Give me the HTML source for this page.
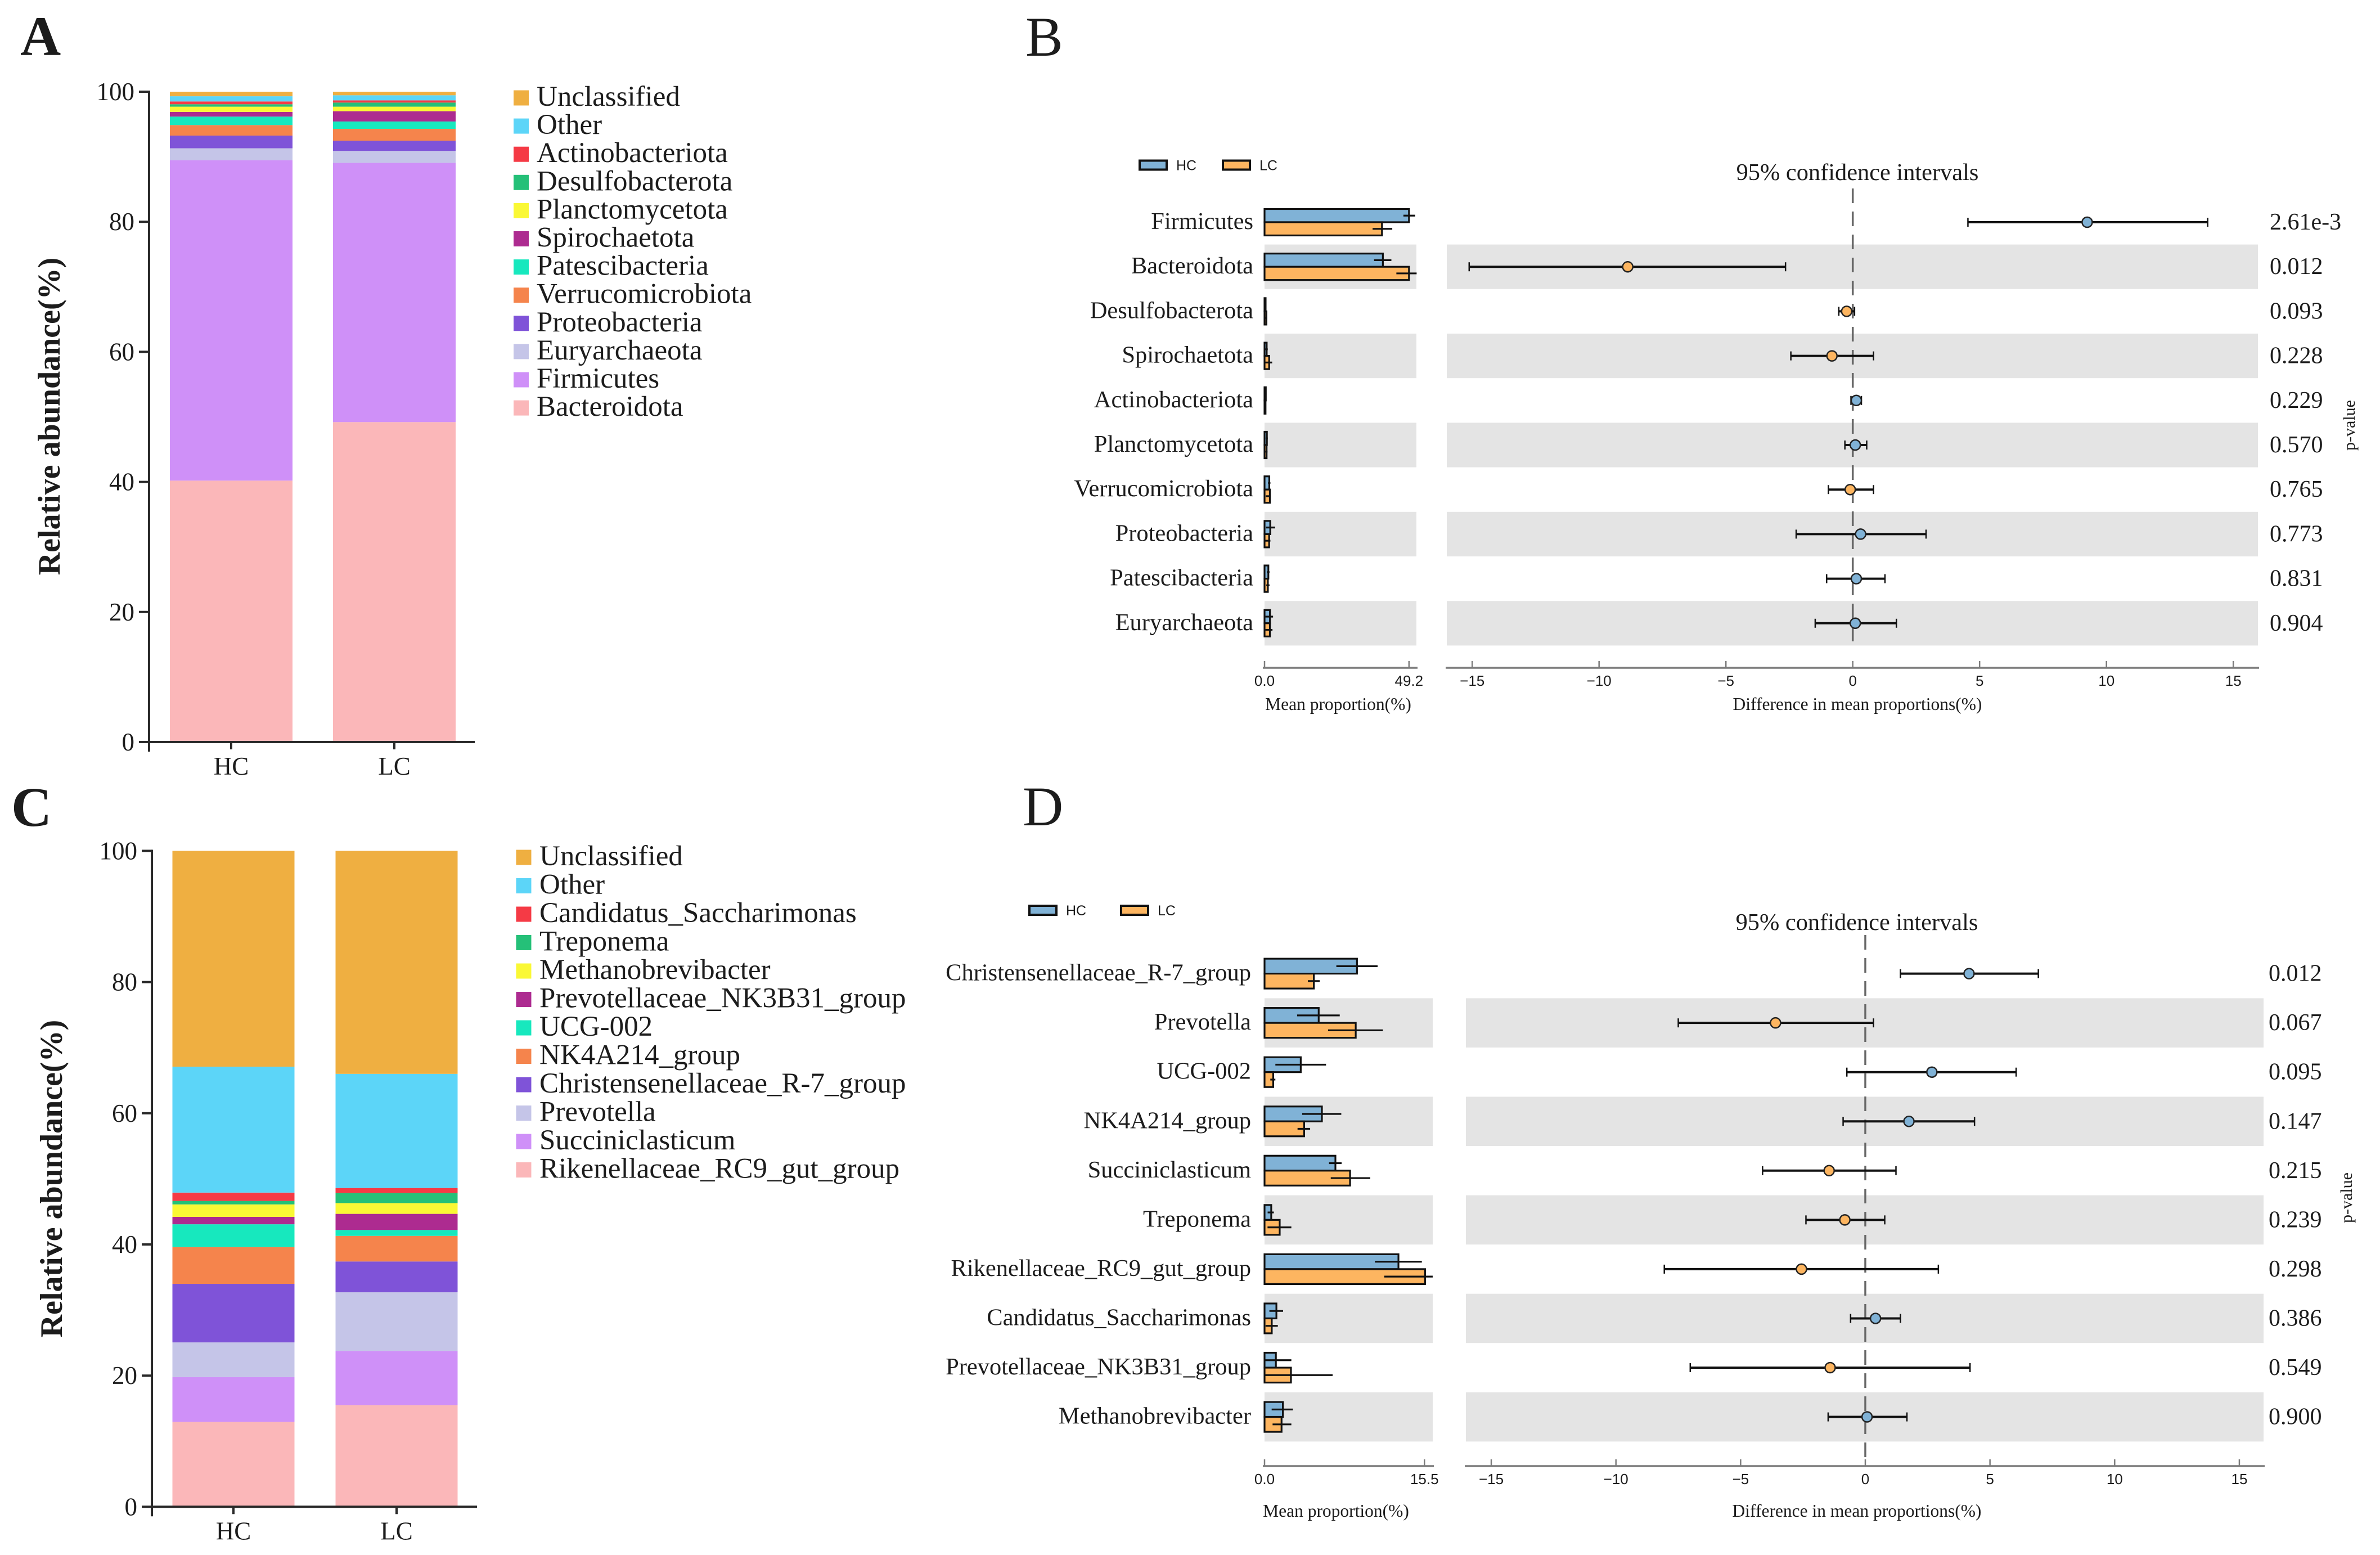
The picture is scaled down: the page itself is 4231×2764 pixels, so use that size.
<!DOCTYPE html>
<html lang="en">
<head>
<meta charset="utf-8">
<title>Microbiome composition and differential abundance</title>
<style>
html,body{margin:0;padding:0;background:#fff;}
svg{display:block;position:absolute;left:0;top:0;}
text{font-family:"Liberation Serif","DejaVu Serif",serif;fill:#1c1c1c;}
text.sans{font-family:"Liberation Sans","DejaVu Sans",sans-serif;}
</style>
</head>
<body>
<svg id="fig" xmlns="http://www.w3.org/2000/svg" width="4231" height="2764" viewBox="0 0 4231 2764">
  <rect x="0" y="0" width="4231" height="2764" fill="#ffffff"/>
  <text x="36" y="98" font-size="100" font-weight="bold">A</text>
  <text x="1823" y="99" font-size="100">B</text>
  <text x="20" y="1468" font-size="100" font-weight="bold">C</text>
  <text x="1818" y="1467" font-size="100">D</text>
  <g id="panelA"></g>
  <g id="panelB"></g>
  <g id="panelC"></g>
  <g id="panelD"></g>
</svg>
<script>
/* ---------- shared categories and ticks ---------- */
const groupNames = ['HC', 'LC'];
const stackTicks = [0, 20, 40, 60, 80, 100];
const diffTicks = [-15, -10, -5, 0, 5, 10, 15];

/* ---------- panel A: phylum composition (bottom to top) ---------- */
const phylumSeries = ['Bacteroidota', 'Firmicutes', 'Euryarchaeota', 'Proteobacteria', 'Verrucomicrobiota', 'Patescibacteria', 'Spirochaetota', 'Planctomycetota', 'Desulfobacterota', 'Actinobacteriota', 'Other', 'Unclassified'];
const phylumHC = [40.2, 49.25, 1.85, 1.95, 1.62, 1.3, 0.73, 0.8, 0.37, 0.43, 0.8, 0.7];
const phylumLC = [49.2, 39.87, 1.83, 1.57, 1.82, 1.13, 1.58, 0.7, 0.63, 0.34, 0.78, 0.55];

/* ---------- panel C: genus composition (bottom to top) ---------- */
const genusSeries = ['Rikenellaceae_RC9_gut_group', 'Succiniclasticum', 'Prevotella', 'Christensenellaceae_R-7_group', 'NK4A214_group', 'UCG-002', 'Prevotellaceae_NK3B31_group', 'Methanobrevibacter', 'Treponema', 'Candidatus_Saccharimonas', 'Other', 'Unclassified'];
const genusHC = [12.94, 6.82, 5.3, 8.93, 5.6, 3.48, 1.13, 1.9, 0.53, 1.27, 19.2, 32.9];
const genusLC = [15.5, 8.27, 8.93, 4.7, 3.9, 0.9, 2.46, 1.64, 1.54, 0.76, 17.4, 34.0];

/* ---------- panel B: phylum differences ---------- */
const phylaRows = ['Firmicutes', 'Bacteroidota', 'Desulfobacterota', 'Spirochaetota', 'Actinobacteriota', 'Planctomycetota', 'Verrucomicrobiota', 'Proteobacteria', 'Patescibacteria', 'Euryarchaeota'];
const phylaMeanHC = [49.2, 40.3, 0.37, 0.73, 0.43, 0.8, 1.62, 1.95, 1.3, 1.85];
const phylaErrLowHC = [47.3, 37.3, 0.2, 0.3, 0.2, 0.4, 1.2, 0.5, 0.8, 0.3];
const phylaErrHighHC = [51.3, 43.2, 0.5, 1.1, 0.6, 1.1, 2.0, 3.6, 1.7, 2.9];
const phylaMeanLC = [40.0, 49.2, 0.63, 1.58, 0.34, 0.7, 1.82, 1.57, 1.13, 1.83];
const phylaErrLowLC = [36.8, 44.9, 0.3, 0.1, 0.2, 0.3, 0.4, 0.2, 0.6, 0.3];
const phylaErrHighLC = [43.5, 51.8, 0.9, 2.6, 0.5, 1.0, 2.1, 2.0, 1.7, 2.7];
const phylaDiff = [9.24, -8.87, -0.24, -0.82, 0.14, 0.1, -0.1, 0.31, 0.14, 0.1];
const phylaDiffLow = [4.54, -15.12, -0.55, -2.44, -0.07, -0.31, -0.96, -2.23, -1.03, -1.48];
const phylaDiffHigh = [13.99, -2.65, 0.07, 0.82, 0.34, 0.55, 0.82, 2.89, 1.27, 1.72];
const phylaPValues = ['2.61e-3', '0.012', '0.093', '0.228', '0.229', '0.570', '0.765', '0.773', '0.831', '0.904'];
const phylaMeanTicks = [0, 49.2];
const phylaMeanTickLabels = ['0.0', '49.2'];

/* ---------- panel D: genus differences ---------- */
const genusRows = ['Christensenellaceae_R-7_group', 'Prevotella', 'UCG-002', 'NK4A214_group', 'Succiniclasticum', 'Treponema', 'Rikenellaceae_RC9_gut_group', 'Candidatus_Saccharimonas', 'Prevotellaceae_NK3B31_group', 'Methanobrevibacter'];
const genusMeanHC = [8.96, 5.25, 3.51, 5.56, 6.87, 0.65, 12.98, 1.15, 1.1, 1.78];
const genusErrLowHC = [6.96, 3.16, 1.05, 3.65, 6.25, 0.3, 10.7, 0.47, 0.0, 0.69];
const genusErrHighHC = [10.96, 7.29, 5.96, 7.44, 7.47, 0.9, 15.25, 1.8, 2.6, 2.75];
const genusMeanLC = [4.78, 8.84, 0.84, 3.84, 8.29, 1.47, 15.56, 0.7, 2.56, 1.65];
const genusErrLowLC = [4.2, 6.16, 0.56, 3.2, 6.42, 0.29, 11.6, 0.1, 0.0, 0.78];
const genusErrHighLC = [5.35, 11.47, 1.05, 4.42, 10.25, 2.6, 16.3, 1.29, 6.6, 2.6];
const genusDiff = [4.16, -3.6, 2.67, 1.75, -1.45, -0.82, -2.56, 0.41, -1.41, 0.07];
const genusDiffLow = [1.41, -7.5, -0.74, -0.89, -4.12, -2.38, -8.06, -0.59, -7.02, -1.49];
const genusDiffHigh = [6.94, 0.33, 6.05, 4.38, 1.23, 0.78, 2.93, 1.41, 4.2, 1.67];
const genusPValues = ['0.012', '0.067', '0.095', '0.147', '0.215', '0.239', '0.298', '0.386', '0.549', '0.900'];
const genusMeanTicks = [0, 15.5];
const genusMeanTickLabels = ['0.0', '15.5'];

/* ---------- palette ---------- */
const stackColors = ['#FBB7B9', '#CF90F8', '#C5C5E8', '#7F53D8', '#F5844C', '#17E8BE', '#AD2B90', '#FAF835', '#25C078', '#F53A45', '#5CD5F8', '#EFAF41'];
const hcColor = '#80B2D6';
const lcColor = '#FDB560';
const inkColor = '#111111';
const axisGray = '#7c7c7c';
const bandGray = '#E4E4E4';

const SVGNS = 'http://www.w3.org/2000/svg';

function mk(tag, attrs, parent, text) {
  const el = document.createElementNS(SVGNS, tag);
  Object.keys(attrs).forEach(function (k) { el.setAttribute(k, attrs[k]); });
  if (text !== undefined) el.textContent = text;
  parent.appendChild(el);
  return el;
}
function slug(s) {
  return String(s).toLowerCase().replace(/[^a-z0-9]+/g, '-').replace(/^-|-$/g, '');
}

function drawStackPanel(root, names, hc, lc, L) {
  const yAt = function (v) { return L.y0 - v * (L.y0 - L.y100) / 100; };
  const barCenters = [L.hcCenter, L.lcCenter];
  [hc, lc].forEach(function (vals, gi) {
    let cum = 0;
    const cx = barCenters[gi];
    vals.forEach(function (v, si) {
      const top = yAt(cum + v);
      const bottom = yAt(cum);
      const seg = mk('rect', { x: cx - L.barW / 2, y: top, width: L.barW, height: bottom - top, fill: stackColors[si] }, root);
      
      
      cum += v;
    });
  });
  const yLine = mk('line', { x1: L.axisX, x2: L.axisX, y1: L.y100 - 2, y2: L.y0 + 17, stroke: '#2a2a2a', 'stroke-width': 4 }, root);
  
  
  const xLine = mk('line', { x1: L.axisX, x2: L.axisEnd, y1: L.y0, y2: L.y0, stroke: '#2a2a2a', 'stroke-width': 4 }, root);
  
  
  stackTicks.forEach(function (t) {
    const tick = mk('line', { x1: L.axisX - 18, x2: L.axisX, y1: yAt(t), y2: yAt(t), stroke: '#2a2a2a', 'stroke-width': 4 }, root);
    
    
    const lab = mk('text', { x: L.axisX - 26, y: yAt(t) + 15, 'font-size': 45, 'text-anchor': 'end' }, root, String(t));
    
    
  });
  groupNames.forEach(function (g, gi) {
    const tick = mk('line', { x1: barCenters[gi], x2: barCenters[gi], y1: L.y0, y2: L.y0 + 13, stroke: '#2a2a2a', 'stroke-width': 4 }, root);
    
    
    const lab = mk('text', { x: barCenters[gi], y: L.y0 + 58, 'font-size': 45, 'text-anchor': 'middle' }, root, g);
    
    
  });
  const title = mk('text', { transform: 'translate(' + L.titleX + ',' + L.titleY + ') rotate(-90)', 'font-size': 56, 'font-weight': 'bold', 'text-anchor': 'middle' }, root, 'Relative abundance(%)');
  
  
  const n = names.length;
  for (let i = 0; i < n; i++) {
    const si = n - 1 - i;
    const cy = L.legendY + i * L.legendStep;
    const sw = mk('rect', { x: L.legendX, y: cy - 13.5, width: 27, height: 27, fill: stackColors[si] }, root);
    
    
    const tx = mk('text', { x: L.legendTextX, y: cy + 14, 'font-size': L.legendFont }, root, names[si]);
    
    
  }
}

function drawDiffPanel(root, D, L) {
  const meanX = function (v) { return L.meanX0 + v * L.meanScale; };
  const diffX = function (v) { return L.zeroX + v * L.diffScale; };
  const rowY = function (i) { return L.rowY0 + i * L.rowStep; };

  D.rows.forEach(function (name, i) {
    if (i % 2 === 1) {
      const b1 = mk('rect', { x: L.bandMeanX1, y: rowY(i) - L.rowStep / 2, width: L.bandMeanX2 - L.bandMeanX1, height: L.rowStep, fill: bandGray }, root);
      
      
      const b2 = mk('rect', { x: L.bandDiffX1, y: rowY(i) - L.rowStep / 2, width: L.bandDiffX2 - L.bandDiffX1, height: L.rowStep, fill: bandGray }, root);
      
      
    }
  });

  const zero = mk('line', { x1: diffX(0), x2: diffX(0), y1: L.zeroTop, y2: L.zeroBottom, stroke: '#666666', 'stroke-width': 3.5, 'stroke-dasharray': '26 15' }, root);
  
  

  D.rows.forEach(function (name, i) {
    const cy = rowY(i);
    const lab = mk('text', { x: L.labelX, y: cy + 12, 'font-size': 42.5, 'text-anchor': 'end' }, root, name);
    
    

    const hcBar = mk('rect', { x: meanX(0), y: cy - L.barH, width: meanX(D.meanHC[i]) - meanX(0), height: L.barH, fill: hcColor, stroke: inkColor, 'stroke-width': 3.2 }, root);
    
    
    const lcBar = mk('rect', { x: meanX(0), y: cy, width: meanX(D.meanLC[i]) - meanX(0), height: L.barH, fill: lcColor, stroke: inkColor, 'stroke-width': 3.2 }, root);
    
    
    const hcErr = mk('line', { x1: meanX(D.lowHC[i]), x2: meanX(D.highHC[i]), y1: cy - L.barH / 2, y2: cy - L.barH / 2, stroke: inkColor, 'stroke-width': 3.2 }, root);
    
    
    const lcErr = mk('line', { x1: meanX(D.lowLC[i]), x2: meanX(D.highLC[i]), y1: cy + L.barH / 2, y2: cy + L.barH / 2, stroke: inkColor, 'stroke-width': 3.2 }, root);
    
    

    const ci = mk('line', { x1: diffX(D.low[i]), x2: diffX(D.high[i]), y1: cy, y2: cy, stroke: inkColor, 'stroke-width': 4 }, root);
    
    
    const capL = mk('line', { x1: diffX(D.low[i]), x2: diffX(D.low[i]), y1: cy - 8, y2: cy + 8, stroke: inkColor, 'stroke-width': 2.5 }, root);
    
    
    const capH = mk('line', { x1: diffX(D.high[i]), x2: diffX(D.high[i]), y1: cy - 8, y2: cy + 8, stroke: inkColor, 'stroke-width': 2.5 }, root);
    
    
    const dot = mk('circle', { cx: diffX(D.diff[i]), cy: cy, r: 9, fill: D.diff[i] >= 0 ? hcColor : lcColor, stroke: '#222222', 'stroke-width': 2.5 }, root);
    
    

    const pv = mk('text', { x: L.pX, y: cy + 13, 'font-size': 42 }, root, D.p[i]);
    
    
  });

  const mAxis = mk('line', { x1: L.meanX0 - 3, x2: L.meanAxisEnd, y1: L.axisY, y2: L.axisY, stroke: axisGray, 'stroke-width': 3.5 }, root);
  
  
  D.meanTicks.forEach(function (t, k) {
    const tick = mk('line', { x1: meanX(t), x2: meanX(t), y1: L.axisY - 12, y2: L.axisY, stroke: axisGray, 'stroke-width': 2.5 }, root);
    
    
    const lab = mk('text', { class: 'sans', x: meanX(t), y: L.axisY + 32, 'font-size': 26, 'text-anchor': 'middle' }, root, D.meanTickLabels[k]);
    
    
  });
  const dAxis = mk('line', { x1: L.bandDiffX1 - 2, x2: L.bandDiffX2 + 2, y1: L.axisY, y2: L.axisY, stroke: axisGray, 'stroke-width': 3.5 }, root);
  
  
  diffTicks.forEach(function (t) {
    const tick = mk('line', { x1: diffX(t), x2: diffX(t), y1: L.axisY - 12, y2: L.axisY, stroke: axisGray, 'stroke-width': 2.5 }, root);
    
    
    const lab = mk('text', { class: 'sans', x: diffX(t), y: L.axisY + 32, 'font-size': 26, 'text-anchor': 'middle' }, root, String(t).replace('-', '\u2212'));
    
    
  });

  const meanTitle = mk('text', { x: L.meanTitleX, y: L.axisY + L.titleOffset, 'font-size': 31.5, 'text-anchor': 'middle' }, root, 'Mean proportion(%)');
  
  
  const diffTitle = mk('text', { x: L.diffTitleX, y: L.axisY + L.titleOffset, 'font-size': 31.5, 'text-anchor': 'middle' }, root, 'Difference in mean proportions(%)');
  
  
  const ciTitle = mk('text', { x: L.diffTitleX, y: L.ciTitleY, 'font-size': 42.4, 'text-anchor': 'middle' }, root, '95% confidence intervals');
  
  
  const pTitle = mk('text', { transform: 'translate(' + L.pTitleX + ',' + L.pTitleY + ') rotate(-90)', 'font-size': 30, 'text-anchor': 'middle' }, root, 'p-value');
  
  

  const swH = mk('rect', { x: L.legendHCX, y: L.legendY - 8, width: 48, height: 16, fill: hcColor, stroke: inkColor, 'stroke-width': 4 }, root);
  
  
  const txH = mk('text', { class: 'sans', x: L.legendHCX + 65, y: L.legendY + 9, 'font-size': 25 }, root, groupNames[0]);
  
  
  const swL = mk('rect', { x: L.legendLCX, y: L.legendY - 8, width: 48, height: 16, fill: lcColor, stroke: inkColor, 'stroke-width': 4 }, root);
  
  
  const txL = mk('text', { class: 'sans', x: L.legendLCX + 65, y: L.legendY + 9, 'font-size': 25 }, root, groupNames[1]);
  
  
}

drawStackPanel(document.getElementById('panelA'), phylumSeries, phylumHC, phylumLC, {
  axisX: 265, axisEnd: 844, y0: 1319, y100: 163, hcCenter: 411, lcCenter: 701, barW: 218,
  titleX: 106, titleY: 740, legendX: 913, legendTextX: 954, legendY: 174, legendStep: 50.1, legendFont: 51
});
drawStackPanel(document.getElementById('panelC'), genusSeries, genusHC, genusLC, {
  axisX: 270, axisEnd: 848, y0: 2678.3, y100: 1512.4, hcCenter: 415, lcCenter: 705, barW: 217,
  titleX: 110, titleY: 2095, legendX: 917.5, legendTextX: 959, legendY: 1524, legendStep: 50.5, legendFont: 51
});
drawDiffPanel(document.getElementById('panelB'), {
  rows: phylaRows, meanHC: phylaMeanHC, lowHC: phylaErrLowHC, highHC: phylaErrHighHC,
  meanLC: phylaMeanLC, lowLC: phylaErrLowLC, highLC: phylaErrHighLC,
  diff: phylaDiff, low: phylaDiffLow, high: phylaDiffHigh, p: phylaPValues,
  meanTicks: phylaMeanTicks, meanTickLabels: phylaMeanTickLabels
}, {
  meanX0: 2248, meanScale: 5.22, zeroX: 3293.7, diffScale: 45.1, rowY0: 395, rowStep: 79.2, barH: 23.5,
  bandMeanX1: 2248, bandMeanX2: 2518, bandDiffX1: 2572, bandDiffX2: 4014, zeroTop: 335, zeroBottom: 1151,
  labelX: 2228, pX: 4035, axisY: 1187, meanAxisEnd: 2520, meanTitleX: 2379, diffTitleX: 3302, ciTitleY: 320,
  pTitleX: 4186, pTitleY: 756, legendY: 293.5, legendHCX: 2026, legendLCX: 2174, titleOffset: 75
});
drawDiffPanel(document.getElementById('panelD'), {
  rows: genusRows, meanHC: genusMeanHC, lowHC: genusErrLowHC, highHC: genusErrHighHC,
  meanLC: genusMeanLC, lowLC: genusErrLowLC, highLC: genusErrHighLC,
  diff: genusDiff, low: genusDiffLow, high: genusDiffHigh, p: genusPValues,
  meanTicks: genusMeanTicks, meanTickLabels: genusMeanTickLabels
}, {
  meanX0: 2248, meanScale: 18.34, zeroX: 3316, diffScale: 44.33, rowY0: 1730.6, rowStep: 87.55, barH: 26.5,
  bandMeanX1: 2248, bandMeanX2: 2547, bandDiffX1: 2606, bandDiffX2: 4024, zeroTop: 1662, zeroBottom: 2594,
  labelX: 2224, pX: 4033, axisY: 2606, meanAxisEnd: 2549, meanTitleX: 2375, diffTitleX: 3301, ciTitleY: 1653,
  pTitleX: 4181, pTitleY: 2129, legendY: 1618, legendHCX: 1830, legendLCX: 1993, titleOffset: 90
});
</script>
</body>
</html>
